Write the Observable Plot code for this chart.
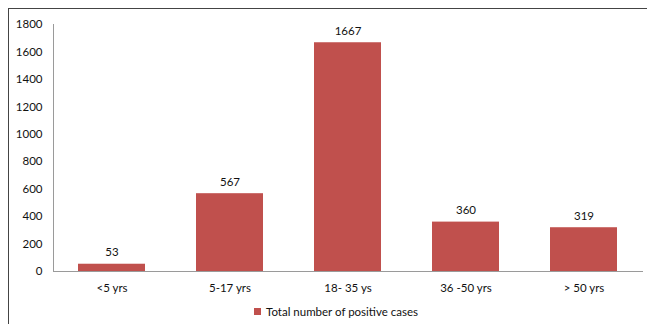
<!DOCTYPE html>
<html>
<head>
<meta charset="utf-8">
<script src="https://cdn.jsdelivr.net/npm/d3@7"></script>
<script src="https://cdn.jsdelivr.net/npm/@observablehq/plot@0.6"></script>
<style>
  body { margin: 0; background: #fff; font-family: Lato, "Open Sans", sans-serif; }
  #wrap { position: relative; width: 647px; height: 324px; overflow: hidden; }
  #frame { position: absolute; left: 8px; top: 8px; width: 700px; height: 400px; border-top: 1.5px solid #444; border-left: 1.5px solid #444; }
  #chart { position: absolute; left: 0; top: 0; }
  #legend { position: absolute; left: 254px; top: 305px; font-size: 11.5px; color: #111; display: flex; align-items: center; gap: 5px; white-space: nowrap; }
  #legend .sw { width: 7px; height: 7px; background: #C0504D; display: inline-block; }
</style>
</head>
<body>
<div id="wrap">
  <div id="frame"></div>
  <div id="chart"></div>
  <div id="legend"><span class="sw"></span><span>Total number of positive cases</span></div>
</div>
<script>
const categories = ["<5 yrs", "5-17 yrs", "18- 35 ys", "36 -50 yrs", "> 50 yrs"];
const values = [53, 567, 1667, 360, 319];
const yTicks = [0, 200, 400, 600, 800, 1000, 1200, 1400, 1600, 1800];
const seriesName = "Total number of positive cases";

const data = categories.map((c, i) => ({category: c, value: values[i]}));

const chart = Plot.plot({
  width: 647,
  height: 305,
  marginLeft: 53,
  marginRight: 4,
  marginTop: 24,
  marginBottom: 34,
  style: {fontFamily: "Lato, 'Open Sans', sans-serif", fontSize: "11.5px", color: "#111", background: "transparent"},
  x: {domain: categories, paddingInner: 0.43, paddingOuter: 0.215, label: null, tickSize: 0, tickPadding: 12},
  y: {domain: [0, 1800], ticks: yTicks, label: null, tickSize: 0, tickPadding: 11, tickFormat: d => String(d)},
  marks: [
    Plot.barY(data, {x: "category", y: "value", fill: "#C0504D"}),
    Plot.ruleY([0], {stroke: "#9a9a9a", strokeWidth: 1}),
    Plot.frame({anchor: "left", stroke: "#9a9a9a", strokeWidth: 1}),
    Plot.text(data, {x: "category", y: "value", text: d => String(d.value), dy: -8, lineAnchor: "bottom", fill: "#111", fontSize: 11.5})
  ]
});
document.getElementById("chart").appendChild(chart);
</script>
</body>
</html>
